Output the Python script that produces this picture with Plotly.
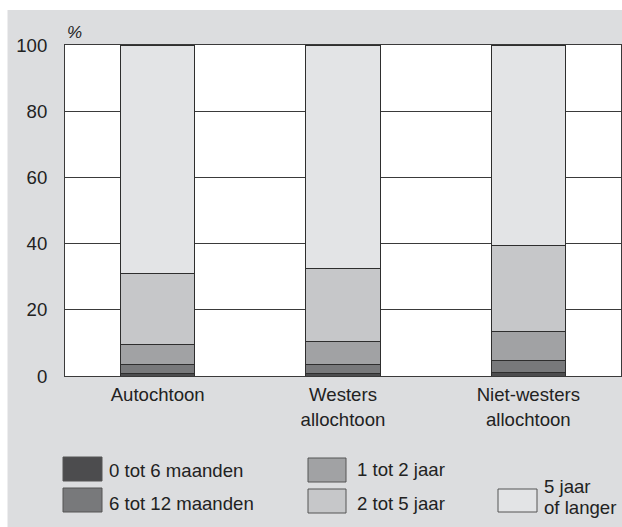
import plotly.graph_objects as go

categories = ["Autochtoon", "Westers<br>allochtoon", "Niet-westers<br>allochtoon"]
series_names = ["0 tot 6 maanden", "6 tot 12 maanden", "1 tot 2 jaar", "2 tot 5 jaar", "5 jaar<br>of langer"]
v_0_6m = [0.9, 0.9, 1.0]
v_6_12m = [2.5, 2.5, 3.8]
v_1_2j = [6.0, 6.9, 8.5]
v_2_5j = [21.6, 22.2, 26.1]
v_5plus = [69.0, 67.5, 60.6]
y_ticks = [0, 20, 40, 60, 80, 100]

colors = ["#4c4c4e", "#78797b", "#a1a2a4", "#c6c7c9", "#e3e4e6"]
values = [v_0_6m, v_6_12m, v_1_2j, v_2_5j, v_5plus]

W, H = 622, 527
L, R, T, B = 65, 621, 45, 376
FS = 18.6

def px(x):
    return (x - L) / (R - L)

def py(y):
    return (B - y) / (B - T)

fig = go.Figure()
for name, vals, col in zip(series_names, values, colors):
    fig.add_trace(go.Bar(
        x=list(range(len(categories))), y=vals, name=name,
        marker=dict(color=col, line=dict(color="#2e2e2e", width=1)),
        width=0.40, showlegend=False,
    ))

shapes = []
shapes.append(dict(type="rect", xref="paper", yref="paper", x0=px(0), x1=px(W), y0=py(0), y1=py(10),
                   fillcolor="white", line=dict(width=0), layer="below"))
shapes.append(dict(type="rect", xref="paper", yref="paper", x0=px(0), x1=px(7.5), y0=py(0), y1=py(H),
                   fillcolor="white", line=dict(width=0), layer="below"))

annotations = [dict(text="<i>%</i>", x=px(65), y=py(32), xref="paper", yref="paper", showarrow=False,
                    xanchor="left", yanchor="middle", font=dict(size=17, color="#222"))]

legend_items = [
    (0, 63, 102, 457, 481, 107, [(series_names[0], 470)]),
    (1, 63, 102, 488, 512, 107, [(series_names[1], 504)]),
    (2, 308, 346, 458, 482, 355, [(series_names[2], 469)]),
    (3, 308, 346, 489, 513, 355, [(series_names[3], 504)]),
    (4, 498, 537, 489, 512, 542, [("5 jaar", 486), ("of langer", 507)]),
]
for idx, x0, x1, y0, y1, tx, texts in legend_items:
    shapes.append(dict(type="rect", xref="paper", yref="paper", x0=px(x0), x1=px(x1), y0=py(y1), y1=py(y0),
                       fillcolor=colors[idx], line=dict(color="#555", width=1)))
    for t, ty in texts:
        annotations.append(dict(text=t, x=px(tx), y=py(ty), xref="paper", yref="paper", showarrow=False,
                                xanchor="left", yanchor="middle", font=dict(size=FS, color="#222")))

fig.update_layout(
    width=W, height=H,
    margin=dict(l=L, r=W - R, t=T, b=H - B),
    barmode="stack",
    paper_bgcolor="#dcdddf",
    plot_bgcolor="white",
    font=dict(family="Liberation Sans, Arial, sans-serif", size=FS, color="#222"),
    shapes=shapes,
    annotations=annotations,
    xaxis=dict(range=[-0.5, 2.5], tickvals=list(range(len(categories))), ticktext=categories,
               showgrid=False, showline=True, linecolor="#3a3a3a", linewidth=1, mirror=True,
               ticks="", ticklabelstandoff=2, fixedrange=True),
    yaxis=dict(range=[0, 100], tickvals=y_ticks, showgrid=True, gridcolor="#3a3a3a", gridwidth=1,
               showline=True, linecolor="#3a3a3a", linewidth=1, mirror=True, zeroline=False,
               ticks="", ticklabelstandoff=13, fixedrange=True),
)

fig.write_html("out.html", config={"displayModeBar": False},
               post_script="document.body.style.margin='0';document.body.style.padding='0';")
